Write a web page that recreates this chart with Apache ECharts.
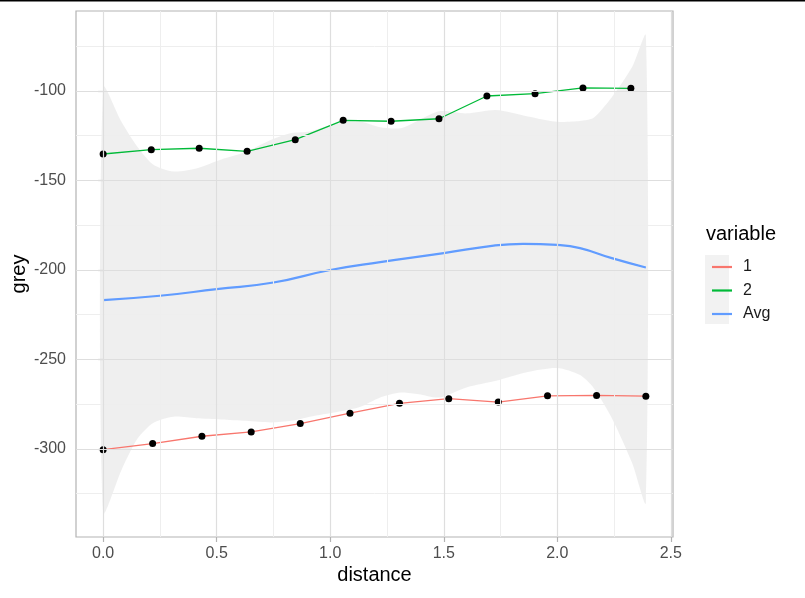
<!DOCTYPE html>
<html>
<head>
<meta charset="utf-8">
<script src="https://cdn.jsdelivr.net/npm/echarts@6/dist/echarts.min.js"></script>
<style>
  html, body { margin: 0; padding: 0; background: #fff; }
  #main { width: 805px; height: 598px; }
</style>
</head>
<body>
<div id="main"></div>
<script>
// series "1"
var dist1 = [0, 0.218, 0.435, 0.652, 0.868, 1.087, 1.305, 1.522, 1.740, 1.957, 2.173, 2.390];
var grey1 = [-300.4, -297.0, -292.9, -290.5, -285.8, -280.0, -274.5, -271.9, -273.8, -270.3, -270.1, -270.5];
// series "2"
var dist2 = [0, 0.212, 0.423, 0.634, 0.846, 1.057, 1.268, 1.479, 1.690, 1.902, 2.113, 2.324];
var grey2 = [-135.2, -132.8, -132.0, -133.7, -127.2, -116.4, -116.9, -115.5, -102.8, -101.5, -98.3, -98.5];
// smoothed average
var distAvg = [0, 0.25, 0.5, 0.75, 1.0, 1.22, 1.5, 1.72, 1.85, 2.0, 2.1, 2.24, 2.39];
var greyAvg = [-216.8, -214.4, -210.7, -207.0, -200.0, -195.6, -190.6, -186.4, -185.4, -186.0, -187.8, -193.4, -198.6];
// confidence ribbon
var distBand = [0, 0.08, 0.15, 0.22, 0.31, 0.41, 0.52, 0.63, 0.74, 0.83, 0.91, 1.03, 1.13, 1.22, 1.31, 1.39, 1.48, 1.6, 1.73, 1.87, 2.0, 2.1, 2.16, 2.24, 2.33, 2.39];
var bandUpper = [-97.9, -117, -131, -141, -145, -143.3, -138.3, -134, -127.3, -123.5, -122.6, -118, -117.1, -120.3, -120.8, -116.3, -111.3, -112.5, -110.6, -114.2, -117.2, -116.8, -115, -103.5, -86.5, -69.0];
var bandLower = [-335.6, -312, -294.5, -285.5, -282, -282.8, -283.5, -284.3, -285.2, -284.3, -282, -279.4, -276.6, -271.2, -268.5, -269.4, -271.2, -265.6, -261.9, -257, -254.8, -258.7, -265.9, -282.7, -308, -330];

var xTicks = [0, 0.5, 1, 1.5, 2, 2.5];
var xMinor = [0.25, 0.75, 1.25, 1.75, 2.25];
var yTicks = [-300, -250, -200, -150, -100];
var yMinor = [-325, -275, -225, -175, -125, -75];

function pairs(xs, ys) {
    return xs.map(function (x, i) { return [x, ys[i]]; });
}

var gridLines = [];
xMinor.forEach(function (v) { gridLines.push({ xAxis: v, lineStyle: { color: '#EEEEEE', width: 1, type: 'solid' } }); });
yMinor.forEach(function (v) { gridLines.push({ yAxis: v, lineStyle: { color: '#EEEEEE', width: 1, type: 'solid' } }); });
xTicks.forEach(function (v) { gridLines.push({ xAxis: v, lineStyle: { color: '#DEDEDE', width: 1.2, type: 'solid' } }); });
yTicks.forEach(function (v) { gridLines.push({ yAxis: v, lineStyle: { color: '#DEDEDE', width: 1.2, type: 'solid' } }); });

var chart = echarts.init(document.getElementById('main'));
var font = '"Liberation Sans", Arial, sans-serif';

var option = {
    animation: false,
    textStyle: { fontFamily: font },
    grid: {
        left: 76, top: 11, width: 597, height: 526,
        outerBoundsMode: 'none',
        show: true, borderColor: '#B3B3B3', borderWidth: 1.2
    },
    xAxis: {
        type: 'value',
        min: -0.1195, max: 2.5095,
        name: 'distance',
        nameLocation: 'middle',
        nameGap: 28,
        nameMoveOverlap: false,
        nameTextStyle: { fontSize: 20, color: '#000', fontFamily: font },
        axisLine: { show: false },
        splitLine: { show: false },
        axisTick: { show: true, customValues: xTicks, length: 5, lineStyle: { color: '#B3B3B3', width: 1.2 } },
        axisLabel: {
            customValues: xTicks, margin: 9, fontSize: 16, color: '#4D4D4D', fontFamily: font,
            formatter: function (v) { return v.toFixed(1); }
        }
    },
    yAxis: {
        type: 'value',
        min: -349.2, max: -55.3,
        name: 'grey',
        nameLocation: 'middle',
        nameRotate: 90,
        nameGap: 47,
        nameMoveOverlap: false,
        nameTextStyle: { fontSize: 20, color: '#000', fontFamily: font },
        axisLine: { show: false },
        splitLine: { show: false },
        axisTick: { show: true, customValues: yTicks, length: 5, lineStyle: { color: '#B3B3B3', width: 1.2 } },
        axisLabel: { customValues: yTicks, margin: 10, fontSize: 16, color: '#4D4D4D', fontFamily: font }
    },
    legend: {
        data: [{ name: '1', icon: 'rect' }, { name: '2', icon: 'rect' }, { name: 'Avg', icon: 'rect' }],
        orient: 'vertical',
        left: 707, top: 254,
        itemWidth: 20, itemHeight: 2.2, itemGap: 7.5,
        textStyle: { fontSize: 16, color: '#1A1A1A', fontFamily: font, padding: [0, 0, 0, 6], lineHeight: 14 }
    },
    graphic: [
        { type: 'rect', left: 0, top: 0, shape: { width: 805, height: 1.5 }, style: { fill: '#000' } },
        { type: 'rect', left: 705, top: 255, z: -1, shape: { width: 24, height: 69 }, style: { fill: '#F2F2F2' } },
        { type: 'text', left: 706, top: 224, style: { text: 'variable', fontSize: 20, fill: '#000', fontFamily: font } }
    ],
    series: [
        {
            name: 'gridlines', type: 'line', silent: true, symbol: 'none',
            data: pairs(dist1, grey1), lineStyle: { opacity: 0 }, z: 0,
            markLine: { silent: true, symbol: ['none', 'none'], label: { show: false }, animation: false, data: gridLines }
        },
        {
            name: 'ribbon', type: 'custom', silent: true, z: 1,
            data: [0],
            renderItem: function (params, api) {
                var pts = [];
                for (var i = 0; i < distBand.length; i++) {
                    pts.push(api.coord([distBand[i], bandUpper[i]]));
                }
                for (var j = distBand.length - 1; j >= 0; j--) {
                    pts.push(api.coord([distBand[j], bandLower[j]]));
                }
                return {
                    type: 'polygon',
                    shape: { points: pts, smooth: 0.25 },
                    style: { fill: 'rgba(153,153,153,0.16)', stroke: null }
                };
            }
        },
        {
            name: '1', type: 'line', symbol: 'none', data: pairs(dist1, grey1),
            itemStyle: { color: '#F8766D' }, lineStyle: { color: '#F8766D', width: 1.3 }, z: 3
        },
        {
            name: '2', type: 'line', symbol: 'none', data: pairs(dist2, grey2),
            itemStyle: { color: '#00BA38' }, lineStyle: { color: '#00BA38', width: 1.3 }, z: 3
        },
        {
            name: 'Avg', type: 'line', symbol: 'none', smooth: true, data: pairs(distAvg, greyAvg),
            itemStyle: { color: '#619CFF' }, lineStyle: { color: '#619CFF', width: 2.2 }, z: 3
        },
        {
            name: 'pts1', type: 'scatter', symbolSize: 7, data: pairs(dist1, grey1),
            itemStyle: { color: '#000', opacity: 1 }, z: 4
        },
        {
            name: 'pts2', type: 'scatter', symbolSize: 7, data: pairs(dist2, grey2),
            itemStyle: { color: '#000', opacity: 1 }, z: 4
        }
    ]
};
chart.setOption(option);
</script>
</body>
</html>
